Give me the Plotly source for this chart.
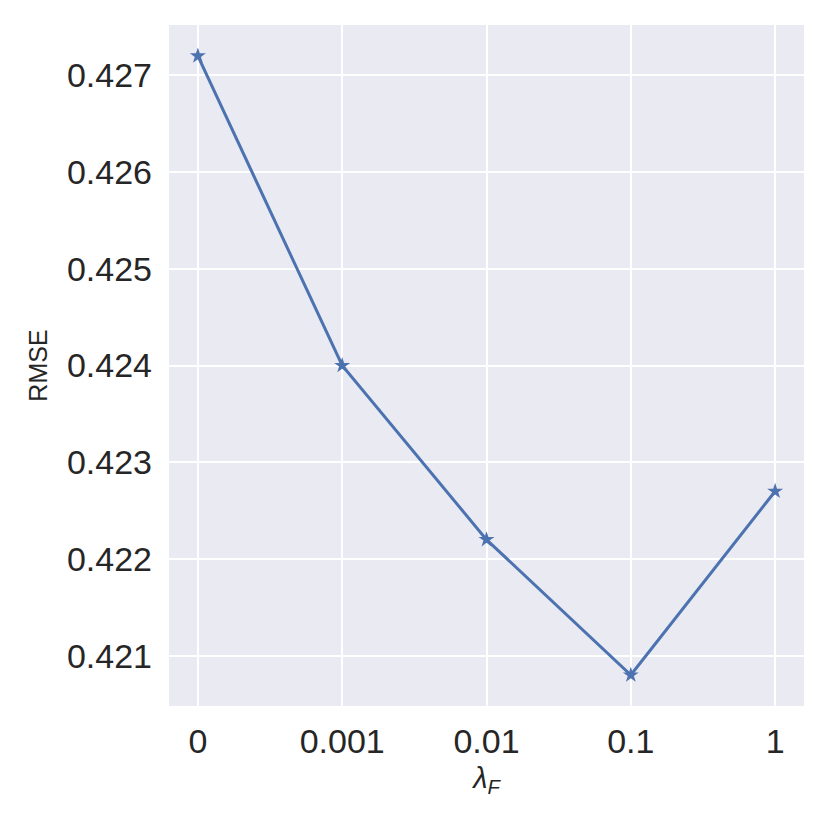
import plotly.graph_objs as go

line_color = "#4C72B0"
bg_color = "#EAEAF2"

lambda_labels = ["0", "0.001", "0.01", "0.1", "1"]
rmse = [0.4272, 0.4240, 0.4222, 0.4208, 0.4227]
y_ticks = [0.421, 0.422, 0.423, 0.424, 0.425, 0.426, 0.427]

fig = go.Figure()

fig.add_trace(
    go.Scatter(
        x=list(range(len(lambda_labels))),
        y=rmse,
        mode="lines+markers",
        line=dict(width=3, color=line_color),
        marker=dict(symbol="star", size=12, color=line_color),
        showlegend=False,
    )
)

fig.update_xaxes(
    range=[-0.2, 4.2],
    tickmode="array",
    tickvals=list(range(len(lambda_labels))),
    ticktext=lambda_labels,
    showgrid=True,
    gridcolor="white",
    gridwidth=2,
    zeroline=False,
    showline=False,
    ticks="",
    ticklabelstandoff=12,
    tickfont=dict(size=34, color="#262626"),
    title=dict(text="<i>λ</i><sub><i>F</i></sub>", font=dict(size=29, color="#262626"), standoff=8),
)
fig.update_yaxes(
    range=[0.42048, 0.42752],
    tickmode="array",
    tickvals=y_ticks,
    ticktext=[f"{v:.3f}" for v in y_ticks],
    showgrid=True,
    gridcolor="white",
    gridwidth=2,
    zeroline=False,
    showline=False,
    ticks="",
    ticklabelstandoff=16,
    tickfont=dict(size=34, color="#262626"),
    title=dict(text="RMSE", font=dict(size=25, color="#262626"), standoff=12),
)

fig.update_layout(
    width=830,
    height=830,
    margin=dict(l=161, r=34, t=17, b=132),
    plot_bgcolor=bg_color,
    paper_bgcolor="white",
    font=dict(family="Liberation Sans, Arial, sans-serif", color="#262626"),
)

fig.write_html("out.html")
